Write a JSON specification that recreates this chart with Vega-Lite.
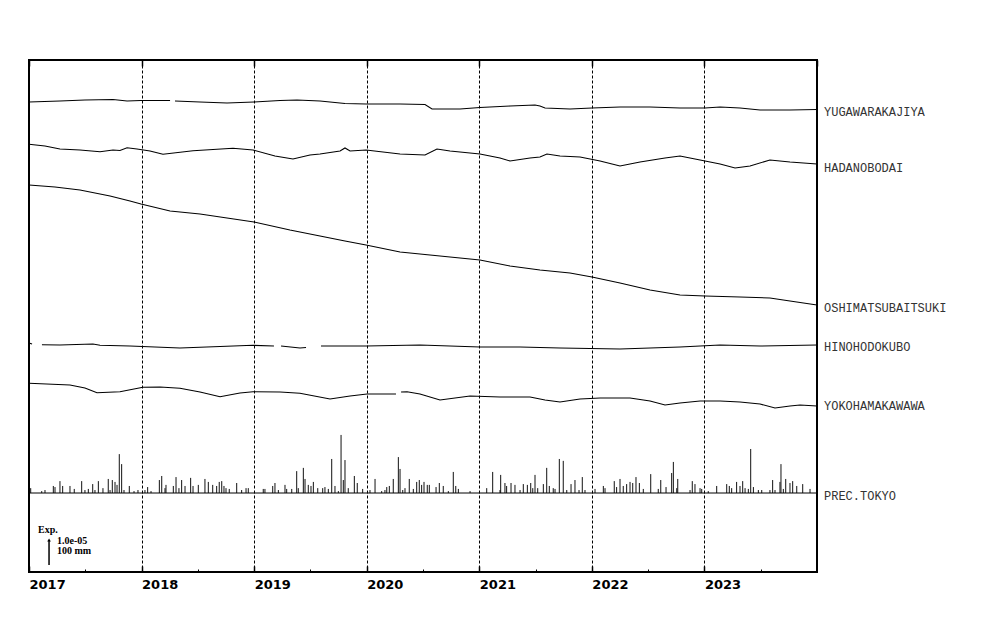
{
  "$schema": "https://vega.github.io/schema/vega-lite/v6.json",
  "width": 788,
  "height": 512,
  "autosize": {"type": "none"},
  "padding": {"left": 29, "top": 60, "right": 183, "bottom": 68},
  "background": "white",
  "config": {
    "view": {"stroke": "black", "strokeWidth": 2},
    "axis": {"tickColor": "black", "title": null, "domain": false}
  },
  "datasets": {
    "lines": [
      {"s": "YUGAWARAKAJIYA", "seg": "Y1", "t": 2017.000, "v": 470},
      {"s": "YUGAWARAKAJIYA", "seg": "Y1", "t": 2017.275, "v": 471},
      {"s": "YUGAWARAKAJIYA", "seg": "Y1", "t": 2017.497, "v": 472},
      {"s": "YUGAWARAKAJIYA", "seg": "Y1", "t": 2017.746, "v": 472.5},
      {"s": "YUGAWARAKAJIYA", "seg": "Y1", "t": 2017.871, "v": 471},
      {"s": "YUGAWARAKAJIYA", "seg": "Y1", "t": 2017.995, "v": 471.5},
      {"s": "YUGAWARAKAJIYA", "seg": "Y1", "t": 2018.164, "v": 471.5},
      {"s": "YUGAWARAKAJIYA", "seg": "Y1", "t": 2018.253, "v": 471.5},
      {"s": "YUGAWARAKAJIYA", "seg": "Y2", "t": 2018.297, "v": 471},
      {"s": "YUGAWARAKAJIYA", "seg": "Y2", "t": 2018.519, "v": 470},
      {"s": "YUGAWARAKAJIYA", "seg": "Y2", "t": 2018.759, "v": 469},
      {"s": "YUGAWARAKAJIYA", "seg": "Y2", "t": 2018.999, "v": 470},
      {"s": "YUGAWARAKAJIYA", "seg": "Y2", "t": 2019.230, "v": 471.5},
      {"s": "YUGAWARAKAJIYA", "seg": "Y2", "t": 2019.381, "v": 472},
      {"s": "YUGAWARAKAJIYA", "seg": "Y2", "t": 2019.585, "v": 471},
      {"s": "YUGAWARAKAJIYA", "seg": "Y2", "t": 2019.807, "v": 468.5},
      {"s": "YUGAWARAKAJIYA", "seg": "Y2", "t": 2019.994, "v": 468},
      {"s": "YUGAWARAKAJIYA", "seg": "Y2", "t": 2020.296, "v": 468},
      {"s": "YUGAWARAKAJIYA", "seg": "Y2", "t": 2020.518, "v": 467.5},
      {"s": "YUGAWARAKAJIYA", "seg": "Y2", "t": 2020.580, "v": 463},
      {"s": "YUGAWARAKAJIYA", "seg": "Y2", "t": 2020.829, "v": 463},
      {"s": "YUGAWARAKAJIYA", "seg": "Y2", "t": 2021.006, "v": 464.5},
      {"s": "YUGAWARAKAJIYA", "seg": "Y2", "t": 2021.273, "v": 466},
      {"s": "YUGAWARAKAJIYA", "seg": "Y2", "t": 2021.495, "v": 467},
      {"s": "YUGAWARAKAJIYA", "seg": "Y2", "t": 2021.539, "v": 466},
      {"s": "YUGAWARAKAJIYA", "seg": "Y2", "t": 2021.584, "v": 464},
      {"s": "YUGAWARAKAJIYA", "seg": "Y2", "t": 2021.806, "v": 463},
      {"s": "YUGAWARAKAJIYA", "seg": "Y2", "t": 2022.001, "v": 464},
      {"s": "YUGAWARAKAJIYA", "seg": "Y2", "t": 2022.250, "v": 465},
      {"s": "YUGAWARAKAJIYA", "seg": "Y2", "t": 2022.517, "v": 465},
      {"s": "YUGAWARAKAJIYA", "seg": "Y2", "t": 2022.783, "v": 464},
      {"s": "YUGAWARAKAJIYA", "seg": "Y2", "t": 2023.005, "v": 464},
      {"s": "YUGAWARAKAJIYA", "seg": "Y2", "t": 2023.139, "v": 465},
      {"s": "YUGAWARAKAJIYA", "seg": "Y2", "t": 2023.316, "v": 464},
      {"s": "YUGAWARAKAJIYA", "seg": "Y2", "t": 2023.494, "v": 462},
      {"s": "YUGAWARAKAJIYA", "seg": "Y2", "t": 2023.760, "v": 462},
      {"s": "YUGAWARAKAJIYA", "seg": "Y2", "t": 2024.000, "v": 462.5},

      {"s": "HADANOBODAI", "seg": "H1", "t": 2017.000, "v": 427.7},
      {"s": "HADANOBODAI", "seg": "H1", "t": 2017.142, "v": 426},
      {"s": "HADANOBODAI", "seg": "H1", "t": 2017.275, "v": 423},
      {"s": "HADANOBODAI", "seg": "H1", "t": 2017.453, "v": 422},
      {"s": "HADANOBODAI", "seg": "H1", "t": 2017.631, "v": 420.3},
      {"s": "HADANOBODAI", "seg": "H1", "t": 2017.746, "v": 422},
      {"s": "HADANOBODAI", "seg": "H1", "t": 2017.808, "v": 421.5},
      {"s": "HADANOBODAI", "seg": "H1", "t": 2017.871, "v": 424.3},
      {"s": "HADANOBODAI", "seg": "H1", "t": 2017.959, "v": 423},
      {"s": "HADANOBODAI", "seg": "H1", "t": 2018.075, "v": 421},
      {"s": "HADANOBODAI", "seg": "H1", "t": 2018.190, "v": 417.7},
      {"s": "HADANOBODAI", "seg": "H1", "t": 2018.457, "v": 421.3},
      {"s": "HADANOBODAI", "seg": "H1", "t": 2018.812, "v": 423.7},
      {"s": "HADANOBODAI", "seg": "H1", "t": 2018.990, "v": 422},
      {"s": "HADANOBODAI", "seg": "H1", "t": 2019.185, "v": 416},
      {"s": "HADANOBODAI", "seg": "H1", "t": 2019.345, "v": 413},
      {"s": "HADANOBODAI", "seg": "H1", "t": 2019.496, "v": 417},
      {"s": "HADANOBODAI", "seg": "H1", "t": 2019.585, "v": 418},
      {"s": "HADANOBODAI", "seg": "H1", "t": 2019.763, "v": 421},
      {"s": "HADANOBODAI", "seg": "H1", "t": 2019.807, "v": 424},
      {"s": "HADANOBODAI", "seg": "H1", "t": 2019.852, "v": 421},
      {"s": "HADANOBODAI", "seg": "H1", "t": 2019.994, "v": 422},
      {"s": "HADANOBODAI", "seg": "H1", "t": 2020.296, "v": 418},
      {"s": "HADANOBODAI", "seg": "H1", "t": 2020.518, "v": 417},
      {"s": "HADANOBODAI", "seg": "H1", "t": 2020.624, "v": 423},
      {"s": "HADANOBODAI", "seg": "H1", "t": 2020.740, "v": 421},
      {"s": "HADANOBODAI", "seg": "H1", "t": 2021.006, "v": 418},
      {"s": "HADANOBODAI", "seg": "H1", "t": 2021.184, "v": 414},
      {"s": "HADANOBODAI", "seg": "H1", "t": 2021.273, "v": 411},
      {"s": "HADANOBODAI", "seg": "H1", "t": 2021.451, "v": 414},
      {"s": "HADANOBODAI", "seg": "H1", "t": 2021.539, "v": 415},
      {"s": "HADANOBODAI", "seg": "H1", "t": 2021.601, "v": 418},
      {"s": "HADANOBODAI", "seg": "H1", "t": 2021.717, "v": 416},
      {"s": "HADANOBODAI", "seg": "H1", "t": 2021.895, "v": 415},
      {"s": "HADANOBODAI", "seg": "H1", "t": 2022.073, "v": 411},
      {"s": "HADANOBODAI", "seg": "H1", "t": 2022.250, "v": 406},
      {"s": "HADANOBODAI", "seg": "H1", "t": 2022.428, "v": 410},
      {"s": "HADANOBODAI", "seg": "H1", "t": 2022.650, "v": 414},
      {"s": "HADANOBODAI", "seg": "H1", "t": 2022.783, "v": 416},
      {"s": "HADANOBODAI", "seg": "H1", "t": 2022.961, "v": 412},
      {"s": "HADANOBODAI", "seg": "H1", "t": 2023.139, "v": 408},
      {"s": "HADANOBODAI", "seg": "H1", "t": 2023.272, "v": 404},
      {"s": "HADANOBODAI", "seg": "H1", "t": 2023.405, "v": 406},
      {"s": "HADANOBODAI", "seg": "H1", "t": 2023.582, "v": 412},
      {"s": "HADANOBODAI", "seg": "H1", "t": 2023.760, "v": 410},
      {"s": "HADANOBODAI", "seg": "H1", "t": 2024.000, "v": 408},

      {"s": "OSHIMATSUBAITSUKI", "seg": "O1", "t": 2017.000, "v": 387},
      {"s": "OSHIMATSUBAITSUKI", "seg": "O1", "t": 2017.231, "v": 385},
      {"s": "OSHIMATSUBAITSUKI", "seg": "O1", "t": 2017.453, "v": 382},
      {"s": "OSHIMATSUBAITSUKI", "seg": "O1", "t": 2017.720, "v": 376},
      {"s": "OSHIMATSUBAITSUKI", "seg": "O1", "t": 2017.897, "v": 371},
      {"s": "OSHIMATSUBAITSUKI", "seg": "O1", "t": 2017.995, "v": 368},
      {"s": "OSHIMATSUBAITSUKI", "seg": "O1", "t": 2018.253, "v": 361},
      {"s": "OSHIMATSUBAITSUKI", "seg": "O1", "t": 2018.519, "v": 358},
      {"s": "OSHIMATSUBAITSUKI", "seg": "O1", "t": 2018.759, "v": 354},
      {"s": "OSHIMATSUBAITSUKI", "seg": "O1", "t": 2018.999, "v": 350},
      {"s": "OSHIMATSUBAITSUKI", "seg": "O1", "t": 2019.318, "v": 342},
      {"s": "OSHIMATSUBAITSUKI", "seg": "O1", "t": 2019.585, "v": 336},
      {"s": "OSHIMATSUBAITSUKI", "seg": "O1", "t": 2019.807, "v": 331},
      {"s": "OSHIMATSUBAITSUKI", "seg": "O1", "t": 2019.994, "v": 327},
      {"s": "OSHIMATSUBAITSUKI", "seg": "O1", "t": 2020.296, "v": 320},
      {"s": "OSHIMATSUBAITSUKI", "seg": "O1", "t": 2020.562, "v": 317},
      {"s": "OSHIMATSUBAITSUKI", "seg": "O1", "t": 2020.829, "v": 314},
      {"s": "OSHIMATSUBAITSUKI", "seg": "O1", "t": 2021.006, "v": 312},
      {"s": "OSHIMATSUBAITSUKI", "seg": "O1", "t": 2021.273, "v": 306},
      {"s": "OSHIMATSUBAITSUKI", "seg": "O1", "t": 2021.539, "v": 302},
      {"s": "OSHIMATSUBAITSUKI", "seg": "O1", "t": 2021.806, "v": 299},
      {"s": "OSHIMATSUBAITSUKI", "seg": "O1", "t": 2022.001, "v": 295},
      {"s": "OSHIMATSUBAITSUKI", "seg": "O1", "t": 2022.250, "v": 289},
      {"s": "OSHIMATSUBAITSUKI", "seg": "O1", "t": 2022.517, "v": 282},
      {"s": "OSHIMATSUBAITSUKI", "seg": "O1", "t": 2022.783, "v": 277},
      {"s": "OSHIMATSUBAITSUKI", "seg": "O1", "t": 2023.005, "v": 276},
      {"s": "OSHIMATSUBAITSUKI", "seg": "O1", "t": 2023.316, "v": 275},
      {"s": "OSHIMATSUBAITSUKI", "seg": "O1", "t": 2023.582, "v": 274},
      {"s": "OSHIMATSUBAITSUKI", "seg": "O1", "t": 2023.760, "v": 271},
      {"s": "OSHIMATSUBAITSUKI", "seg": "O1", "t": 2024.000, "v": 267},

      {"s": "HINOHODOKUBO", "seg": "N1", "t": 2017.000, "v": 229},
      {"s": "HINOHODOKUBO", "seg": "N1", "t": 2017.027, "v": 228},
      {"s": "HINOHODOKUBO", "seg": "N2", "t": 2017.115, "v": 227.3},
      {"s": "HINOHODOKUBO", "seg": "N2", "t": 2017.275, "v": 227},
      {"s": "HINOHODOKUBO", "seg": "N2", "t": 2017.568, "v": 228},
      {"s": "HINOHODOKUBO", "seg": "N2", "t": 2017.631, "v": 226.7},
      {"s": "HINOHODOKUBO", "seg": "N2", "t": 2017.897, "v": 226},
      {"s": "HINOHODOKUBO", "seg": "N2", "t": 2018.341, "v": 224},
      {"s": "HINOHODOKUBO", "seg": "N2", "t": 2018.697, "v": 225.5},
      {"s": "HINOHODOKUBO", "seg": "N2", "t": 2018.990, "v": 226.7},
      {"s": "HINOHODOKUBO", "seg": "N2", "t": 2019.176, "v": 226},
      {"s": "HINOHODOKUBO", "seg": "N3", "t": 2019.239, "v": 226},
      {"s": "HINOHODOKUBO", "seg": "N3", "t": 2019.407, "v": 224},
      {"s": "HINOHODOKUBO", "seg": "N3", "t": 2019.461, "v": 224.5},
      {"s": "HINOHODOKUBO", "seg": "N4", "t": 2019.594, "v": 226},
      {"s": "HINOHODOKUBO", "seg": "N4", "t": 2019.994, "v": 226},
      {"s": "HINOHODOKUBO", "seg": "N4", "t": 2020.473, "v": 227},
      {"s": "HINOHODOKUBO", "seg": "N4", "t": 2021.006, "v": 225},
      {"s": "HINOHODOKUBO", "seg": "N4", "t": 2021.362, "v": 225},
      {"s": "HINOHODOKUBO", "seg": "N4", "t": 2021.717, "v": 224},
      {"s": "HINOHODOKUBO", "seg": "N4", "t": 2022.250, "v": 223},
      {"s": "HINOHODOKUBO", "seg": "N4", "t": 2022.517, "v": 224},
      {"s": "HINOHODOKUBO", "seg": "N4", "t": 2022.783, "v": 225},
      {"s": "HINOHODOKUBO", "seg": "N4", "t": 2023.139, "v": 227},
      {"s": "HINOHODOKUBO", "seg": "N4", "t": 2023.494, "v": 226},
      {"s": "HINOHODOKUBO", "seg": "N4", "t": 2024.000, "v": 227},

      {"s": "YOKOHAMAKAWAWA", "seg": "K1", "t": 2017.000, "v": 188.7},
      {"s": "YOKOHAMAKAWAWA", "seg": "K1", "t": 2017.364, "v": 187},
      {"s": "YOKOHAMAKAWAWA", "seg": "K1", "t": 2017.497, "v": 184},
      {"s": "YOKOHAMAKAWAWA", "seg": "K1", "t": 2017.604, "v": 179.3},
      {"s": "YOKOHAMAKAWAWA", "seg": "K1", "t": 2017.808, "v": 180.3},
      {"s": "YOKOHAMAKAWAWA", "seg": "K1", "t": 2018.012, "v": 184.7},
      {"s": "YOKOHAMAKAWAWA", "seg": "K1", "t": 2018.164, "v": 185},
      {"s": "YOKOHAMAKAWAWA", "seg": "K1", "t": 2018.341, "v": 183.7},
      {"s": "YOKOHAMAKAWAWA", "seg": "K1", "t": 2018.519, "v": 180},
      {"s": "YOKOHAMAKAWAWA", "seg": "K1", "t": 2018.697, "v": 175.3},
      {"s": "YOKOHAMAKAWAWA", "seg": "K1", "t": 2018.874, "v": 179},
      {"s": "YOKOHAMAKAWAWA", "seg": "K1", "t": 2018.990, "v": 180.3},
      {"s": "YOKOHAMAKAWAWA", "seg": "K1", "t": 2019.230, "v": 180},
      {"s": "YOKOHAMAKAWAWA", "seg": "K1", "t": 2019.407, "v": 178.7},
      {"s": "YOKOHAMAKAWAWA", "seg": "K1", "t": 2019.674, "v": 173},
      {"s": "YOKOHAMAKAWAWA", "seg": "K1", "t": 2019.852, "v": 176},
      {"s": "YOKOHAMAKAWAWA", "seg": "K1", "t": 2020.003, "v": 178},
      {"s": "YOKOHAMAKAWAWA", "seg": "K1", "t": 2020.234, "v": 178},
      {"s": "YOKOHAMAKAWAWA", "seg": "K1", "t": 2020.260, "v": 178},
      {"s": "YOKOHAMAKAWAWA", "seg": "K2", "t": 2020.305, "v": 180},
      {"s": "YOKOHAMAKAWAWA", "seg": "K2", "t": 2020.358, "v": 180.3},
      {"s": "YOKOHAMAKAWAWA", "seg": "K2", "t": 2020.473, "v": 178},
      {"s": "YOKOHAMAKAWAWA", "seg": "K2", "t": 2020.651, "v": 172},
      {"s": "YOKOHAMAKAWAWA", "seg": "K2", "t": 2020.918, "v": 176},
      {"s": "YOKOHAMAKAWAWA", "seg": "K2", "t": 2021.184, "v": 175},
      {"s": "YOKOHAMAKAWAWA", "seg": "K2", "t": 2021.451, "v": 175},
      {"s": "YOKOHAMAKAWAWA", "seg": "K2", "t": 2021.584, "v": 172},
      {"s": "YOKOHAMAKAWAWA", "seg": "K2", "t": 2021.717, "v": 170},
      {"s": "YOKOHAMAKAWAWA", "seg": "K2", "t": 2021.895, "v": 173},
      {"s": "YOKOHAMAKAWAWA", "seg": "K2", "t": 2022.073, "v": 174},
      {"s": "YOKOHAMAKAWAWA", "seg": "K2", "t": 2022.339, "v": 174},
      {"s": "YOKOHAMAKAWAWA", "seg": "K2", "t": 2022.517, "v": 171},
      {"s": "YOKOHAMAKAWAWA", "seg": "K2", "t": 2022.650, "v": 167},
      {"s": "YOKOHAMAKAWAWA", "seg": "K2", "t": 2022.783, "v": 169},
      {"s": "YOKOHAMAKAWAWA", "seg": "K2", "t": 2022.961, "v": 171},
      {"s": "YOKOHAMAKAWAWA", "seg": "K2", "t": 2023.139, "v": 171},
      {"s": "YOKOHAMAKAWAWA", "seg": "K2", "t": 2023.316, "v": 170},
      {"s": "YOKOHAMAKAWAWA", "seg": "K2", "t": 2023.494, "v": 168},
      {"s": "YOKOHAMAKAWAWA", "seg": "K2", "t": 2023.627, "v": 164},
      {"s": "YOKOHAMAKAWAWA", "seg": "K2", "t": 2023.760, "v": 166},
      {"s": "YOKOHAMAKAWAWA", "seg": "K2", "t": 2023.849, "v": 167},
      {"s": "YOKOHAMAKAWAWA", "seg": "K2", "t": 2024.000, "v": 166}
    ],
    "prec": [
      {"t": 2017.015, "mm": 18}, {"t": 2017.113, "mm": 7}, {"t": 2017.142, "mm": 11}, {"t": 2017.216, "mm": 26},
      {"t": 2017.231, "mm": 22}, {"t": 2017.275, "mm": 44}, {"t": 2017.299, "mm": 26}, {"t": 2017.364, "mm": 26},
      {"t": 2017.402, "mm": 15}, {"t": 2017.468, "mm": 44}, {"t": 2017.497, "mm": 11}, {"t": 2017.527, "mm": 15},
      {"t": 2017.566, "mm": 33}, {"t": 2017.586, "mm": 11}, {"t": 2017.616, "mm": 44}, {"t": 2017.657, "mm": 18},
      {"t": 2017.704, "mm": 52}, {"t": 2017.720, "mm": 11}, {"t": 2017.740, "mm": 48}, {"t": 2017.764, "mm": 41},
      {"t": 2017.782, "mm": 30}, {"t": 2017.802, "mm": 144}, {"t": 2017.823, "mm": 107}, {"t": 2017.844, "mm": 11},
      {"t": 2017.891, "mm": 26}, {"t": 2017.933, "mm": 7}, {"t": 2017.968, "mm": 11}, {"t": 2018.030, "mm": 11},
      {"t": 2018.054, "mm": 22}, {"t": 2018.084, "mm": 7}, {"t": 2018.158, "mm": 48}, {"t": 2018.179, "mm": 63},
      {"t": 2018.208, "mm": 18}, {"t": 2018.217, "mm": 30}, {"t": 2018.282, "mm": 26}, {"t": 2018.306, "mm": 59},
      {"t": 2018.332, "mm": 18}, {"t": 2018.356, "mm": 48}, {"t": 2018.386, "mm": 26}, {"t": 2018.436, "mm": 56},
      {"t": 2018.457, "mm": 26}, {"t": 2018.504, "mm": 30}, {"t": 2018.563, "mm": 52}, {"t": 2018.593, "mm": 41},
      {"t": 2018.632, "mm": 30}, {"t": 2018.667, "mm": 26}, {"t": 2018.690, "mm": 41}, {"t": 2018.712, "mm": 44},
      {"t": 2018.732, "mm": 26}, {"t": 2018.750, "mm": 18}, {"t": 2018.779, "mm": 15}, {"t": 2018.845, "mm": 37},
      {"t": 2018.889, "mm": 11}, {"t": 2018.928, "mm": 18}, {"t": 2018.948, "mm": 18}, {"t": 2019.081, "mm": 15},
      {"t": 2019.096, "mm": 15}, {"t": 2019.165, "mm": 26}, {"t": 2019.185, "mm": 37}, {"t": 2019.215, "mm": 11},
      {"t": 2019.274, "mm": 30}, {"t": 2019.289, "mm": 15}, {"t": 2019.334, "mm": 15}, {"t": 2019.378, "mm": 81},
      {"t": 2019.392, "mm": 18}, {"t": 2019.437, "mm": 93}, {"t": 2019.452, "mm": 52}, {"t": 2019.481, "mm": 30},
      {"t": 2019.505, "mm": 26}, {"t": 2019.526, "mm": 41}, {"t": 2019.565, "mm": 18}, {"t": 2019.609, "mm": 18},
      {"t": 2019.629, "mm": 22}, {"t": 2019.659, "mm": 15}, {"t": 2019.689, "mm": 126}, {"t": 2019.718, "mm": 26},
      {"t": 2019.748, "mm": 7}, {"t": 2019.772, "mm": 215}, {"t": 2019.792, "mm": 48}, {"t": 2019.807, "mm": 122},
      {"t": 2019.836, "mm": 18}, {"t": 2019.890, "mm": 63}, {"t": 2019.916, "mm": 37}, {"t": 2019.964, "mm": 15},
      {"t": 2020.029, "mm": 11}, {"t": 2020.074, "mm": 52}, {"t": 2020.133, "mm": 7}, {"t": 2020.162, "mm": 11},
      {"t": 2020.178, "mm": 22}, {"t": 2020.201, "mm": 26}, {"t": 2020.236, "mm": 52}, {"t": 2020.281, "mm": 133},
      {"t": 2020.296, "mm": 89}, {"t": 2020.320, "mm": 11}, {"t": 2020.340, "mm": 18}, {"t": 2020.378, "mm": 52},
      {"t": 2020.414, "mm": 15}, {"t": 2020.444, "mm": 41}, {"t": 2020.467, "mm": 48}, {"t": 2020.488, "mm": 30},
      {"t": 2020.509, "mm": 41}, {"t": 2020.538, "mm": 30}, {"t": 2020.556, "mm": 30}, {"t": 2020.616, "mm": 22},
      {"t": 2020.645, "mm": 37}, {"t": 2020.680, "mm": 26}, {"t": 2020.725, "mm": 7}, {"t": 2020.769, "mm": 78},
      {"t": 2020.791, "mm": 26}, {"t": 2020.814, "mm": 15}, {"t": 2020.918, "mm": 7}, {"t": 2021.066, "mm": 18},
      {"t": 2021.119, "mm": 78}, {"t": 2021.184, "mm": 11}, {"t": 2021.190, "mm": 67}, {"t": 2021.228, "mm": 37},
      {"t": 2021.243, "mm": 26}, {"t": 2021.282, "mm": 37}, {"t": 2021.317, "mm": 30}, {"t": 2021.362, "mm": 11},
      {"t": 2021.391, "mm": 33}, {"t": 2021.427, "mm": 30}, {"t": 2021.457, "mm": 37}, {"t": 2021.475, "mm": 18},
      {"t": 2021.495, "mm": 67}, {"t": 2021.519, "mm": 18}, {"t": 2021.569, "mm": 33}, {"t": 2021.599, "mm": 93},
      {"t": 2021.622, "mm": 26}, {"t": 2021.657, "mm": 18}, {"t": 2021.673, "mm": 15}, {"t": 2021.711, "mm": 126},
      {"t": 2021.746, "mm": 119}, {"t": 2021.777, "mm": 11}, {"t": 2021.815, "mm": 33}, {"t": 2021.850, "mm": 48},
      {"t": 2021.886, "mm": 11}, {"t": 2021.915, "mm": 59}, {"t": 2021.939, "mm": 11}, {"t": 2022.028, "mm": 15},
      {"t": 2022.102, "mm": 26}, {"t": 2022.117, "mm": 18}, {"t": 2022.199, "mm": 44}, {"t": 2022.220, "mm": 22},
      {"t": 2022.250, "mm": 52}, {"t": 2022.279, "mm": 26}, {"t": 2022.309, "mm": 33}, {"t": 2022.339, "mm": 41},
      {"t": 2022.363, "mm": 37}, {"t": 2022.392, "mm": 59}, {"t": 2022.422, "mm": 37}, {"t": 2022.457, "mm": 15},
      {"t": 2022.523, "mm": 70}, {"t": 2022.590, "mm": 15}, {"t": 2022.612, "mm": 48}, {"t": 2022.659, "mm": 22},
      {"t": 2022.709, "mm": 74}, {"t": 2022.724, "mm": 115}, {"t": 2022.754, "mm": 18}, {"t": 2022.763, "mm": 52},
      {"t": 2022.872, "mm": 11}, {"t": 2022.892, "mm": 44}, {"t": 2022.916, "mm": 33}, {"t": 2022.961, "mm": 18},
      {"t": 2022.976, "mm": 15}, {"t": 2023.034, "mm": 7}, {"t": 2023.109, "mm": 26}, {"t": 2023.198, "mm": 33},
      {"t": 2023.221, "mm": 26}, {"t": 2023.242, "mm": 18}, {"t": 2023.286, "mm": 41}, {"t": 2023.316, "mm": 26},
      {"t": 2023.340, "mm": 44}, {"t": 2023.361, "mm": 18}, {"t": 2023.390, "mm": 15}, {"t": 2023.411, "mm": 163},
      {"t": 2023.435, "mm": 22}, {"t": 2023.479, "mm": 11}, {"t": 2023.509, "mm": 11}, {"t": 2023.582, "mm": 11},
      {"t": 2023.606, "mm": 48}, {"t": 2023.627, "mm": 11}, {"t": 2023.671, "mm": 41}, {"t": 2023.680, "mm": 107},
      {"t": 2023.701, "mm": 15}, {"t": 2023.722, "mm": 52}, {"t": 2023.760, "mm": 37}, {"t": 2023.784, "mm": 44},
      {"t": 2023.820, "mm": 26}, {"t": 2023.873, "mm": 33}, {"t": 2023.938, "mm": 15}
    ],
    "labels": [
      {"name": "YUGAWARAKAJIYA", "v": 460},
      {"name": "HADANOBODAI", "v": 404},
      {"name": "OSHIMATSUBAITSUKI", "v": 264},
      {"name": "HINOHODOKUBO", "v": 225},
      {"name": "YOKOHAMAKAWAWA", "v": 166},
      {"name": "PREC.TOKYO", "v": 76}
    ],
    "scalebar": [
      {"t": 2017.178, "v0": 7, "v1": 32}
    ],
    "notes": [
      {"t": 2017.080, "v": 42, "txt": "Exp."},
      {"t": 2017.249, "v": 31, "txt": "1.0e-05"},
      {"t": 2017.249, "v": 21, "txt": "100 mm"}
    ]
  },
  "resolve": {"scale": {"y": "independent"}, "axis": {"x": "independent"}},
  "layer": [
    {
      "data": {"name": "lines"},
      "mark": {"type": "line", "stroke": "black", "strokeWidth": 1.1},
      "encoding": {
        "x": {
          "field": "t", "type": "quantitative",
          "scale": {"domain": [2017, 2024], "nice": false, "zero": false},
          "axis": {
            "orient": "bottom", "values": [2017, 2018, 2019, 2020, 2021, 2022, 2023],
            "format": "d", "tickSize": -6, "tickWidth": 1.5, "grid": true,
            "gridColor": "black", "gridDash": [3, 2], "gridWidth": 1,
            "labelAlign": "left", "labelDx": -2, "labelPadding": 12,
            "labelFont": "DejaVu Sans", "labelFontWeight": "bold", "labelFontSize": 13,
            "labelColor": "black", "labelBaseline": "top"
          }
        },
        "y": {"field": "v", "type": "quantitative", "scale": {"domain": [0, 512], "nice": false, "zero": false}, "axis": null},
        "detail": {"field": "seg"}
      }
    },
    {
      "data": {"name": "prec"},
      "mark": {"type": "rule", "stroke": "#111", "strokeWidth": 1},
      "encoding": {
        "x": {
          "field": "t", "type": "quantitative",
          "scale": {"domain": [2017, 2024], "nice": false, "zero": false},
          "axis": {
            "orient": "bottom", "values": [2017.5, 2018.5, 2019.5, 2020.5, 2021.5, 2022.5, 2023.5],
            "tickSize": -3, "tickWidth": 1, "labels": false, "grid": false
          }
        },
        "y": {"field": "mm", "type": "quantitative", "scale": {"domain": [-292.6, 1603.7], "nice": false, "zero": false}, "axis": null},
        "y2": {"datum": 0}
      }
    },
    {
      "data": {"name": "labels"},
      "mark": {"type": "text", "align": "left", "baseline": "middle", "dx": 7, "font": "Liberation Mono", "fontSize": 12, "fill": "#333"},
      "encoding": {
        "x": {"datum": 2024, "type": "quantitative", "scale": {"domain": [2017, 2024], "nice": false, "zero": false}, "axis": null},
        "y": {"field": "v", "type": "quantitative", "scale": {"domain": [0, 512], "nice": false, "zero": false}, "axis": null},
        "text": {"field": "name"}
      }
    },
    {
      "data": {"name": "scalebar"},
      "layer": [
        {
          "mark": {"type": "rule", "stroke": "black", "strokeWidth": 1.5},
          "encoding": {
            "x": {
              "field": "t", "type": "quantitative",
              "scale": {"domain": [2017, 2024], "nice": false, "zero": false},
              "axis": {
                "orient": "top", "values": [2017.5, 2018.5, 2019.5, 2020.5, 2021.5, 2022.5, 2023.5],
                "tickSize": -3, "tickWidth": 1, "labels": false, "grid": false
              }
            },
            "y": {"field": "v0", "type": "quantitative", "scale": {"domain": [0, 512], "nice": false, "zero": false}, "axis": null},
            "y2": {"field": "v1"}
          }
        },
        {
          "mark": {"type": "point", "shape": "triangle-up", "filled": true, "fill": "black", "size": 14, "opacity": 1},
          "encoding": {
            "x": {"field": "t", "type": "quantitative", "scale": {"domain": [2017, 2024], "nice": false, "zero": false}, "axis": null},
            "y": {"field": "v1", "type": "quantitative", "scale": {"domain": [0, 512], "nice": false, "zero": false}, "axis": null}
          }
        }
      ]
    },
    {
      "data": {"name": "notes"},
      "mark": {"type": "text", "align": "left", "baseline": "middle", "font": "Liberation Serif", "fontWeight": "bold", "fontSize": 10, "fill": "black"},
      "encoding": {
        "x": {
          "field": "t", "type": "quantitative",
          "scale": {"domain": [2017, 2024], "nice": false, "zero": false},
          "axis": {
            "orient": "top", "values": [2017, 2018, 2019, 2020, 2021, 2022, 2023, 2024],
            "tickSize": -6, "tickWidth": 1.5, "labels": false, "grid": false
          }
        },
        "y": {"field": "v", "type": "quantitative", "scale": {"domain": [0, 512], "nice": false, "zero": false}, "axis": null},
        "text": {"field": "txt"}
      }
    },
    {
      "data": {"values": [{"base": 79}]},
      "mark": {"type": "rule", "stroke": "black", "strokeWidth": 1},
      "encoding": {
        "y": {"field": "base", "type": "quantitative", "scale": {"domain": [0, 512], "nice": false, "zero": false}, "axis": null}
      }
    }
  ]
}
